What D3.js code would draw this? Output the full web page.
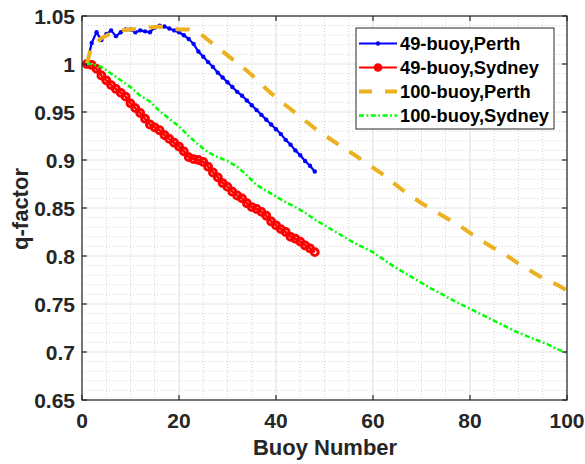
<!DOCTYPE html>
<html>
<head>
<meta charset="utf-8">
<script src="https://cdn.jsdelivr.net/npm/d3@7"></script>
<style>
  html, body { margin: 0; padding: 0; background: #fff; }
  svg { display: block; font-family: "Liberation Sans", Arial, Helvetica, sans-serif; }
</style>
</head>
<body>
<svg id="chart" width="585" height="464"></svg>
<script>
// ---------- DATA ----------
const xTicks = [0, 20, 40, 60, 80, 100];
const yTicks = [0.65, 0.7, 0.75, 0.8, 0.85, 0.9, 0.95, 1, 1.05];
const yTickLabels = ["0.65", "0.7", "0.75", "0.8", "0.85", "0.9", "0.95", "1", "1.05"];
const seriesNames = ["49-buoy,Perth", "49-buoy,Sydney", "100-buoy,Perth", "100-buoy,Sydney"];

const perth49X = d3.range(1, 49);
const perth49Y = [1.000, 1.022, 1.033, 1.025, 1.031, 1.035, 1.029, 1.033, 1.036, 1.036,
                  1.033, 1.035, 1.034, 1.033, 1.038, 1.040, 1.039, 1.037, 1.035, 1.033,
                  1.030, 1.026, 1.021, 1.013, 1.0075, 1.002, 0.997, 0.991, 0.986, 0.981,
                  0.976, 0.971, 0.967, 0.962, 0.957, 0.952, 0.947, 0.942, 0.937, 0.932,
                  0.927, 0.921, 0.916, 0.910, 0.905, 0.899, 0.894, 0.888];

const sydney49X = d3.range(1, 49);
const sydney49Y = [1.000, 0.999, 0.995, 0.988, 0.983, 0.978, 0.974, 0.970, 0.966, 0.959,
                   0.954, 0.949, 0.943, 0.937, 0.934, 0.931, 0.926, 0.922, 0.918, 0.914,
                   0.909, 0.903, 0.901, 0.900, 0.898, 0.893, 0.887, 0.882, 0.876, 0.872,
                   0.867, 0.863, 0.860, 0.855, 0.851, 0.849, 0.846, 0.842, 0.836, 0.832,
                   0.828, 0.825, 0.820, 0.818, 0.815, 0.811, 0.808, 0.804];

const perth100X = [1, 2, 3, 4, 6, 8, 10, 12, 14, 16, 18, 20, 22, 24, 26, 28, 30, 32, 34, 36,
                   38, 40, 42, 44, 46, 48, 50, 52, 54, 56, 58, 60, 62, 64, 66, 68, 70, 72,
                   74, 76, 78, 80, 82, 84, 86, 88, 90, 92, 94, 96, 98, 100];
const perth100Y = [1.000, 1.020, 1.022, 1.027, 1.032, 1.035, 1.036, 1.037, 1.038, 1.039,
                   1.037, 1.036, 1.036, 1.033, 1.025, 1.017, 1.009, 1.001, 0.993, 0.984,
                   0.974, 0.965, 0.957, 0.949, 0.941, 0.933, 0.926, 0.919, 0.912, 0.906,
                   0.899, 0.892, 0.885, 0.877, 0.869, 0.862, 0.855, 0.849, 0.843, 0.837,
                   0.831, 0.824, 0.817, 0.811, 0.805, 0.799, 0.792, 0.786, 0.780, 0.774,
                   0.770, 0.764];

const sydney100X = [1, 2, 4, 6, 8, 10, 12, 14, 16, 18, 20, 22, 24, 26, 28, 30, 32, 34, 36, 38,
                    40, 42, 44, 46, 48, 50, 52, 54, 56, 58, 60, 62, 64, 66, 68, 70, 72, 74,
                    76, 78, 80, 82, 84, 86, 88, 90, 92, 94, 96, 98, 100];
const sydney100Y = [1.000, 1.000, 0.997, 0.990, 0.983, 0.976, 0.967, 0.961, 0.951, 0.943,
                    0.935, 0.925, 0.916, 0.908, 0.903, 0.899, 0.893, 0.884, 0.874, 0.868,
                    0.862, 0.856, 0.851, 0.845, 0.838, 0.832, 0.826, 0.820, 0.814, 0.809,
                    0.804, 0.797, 0.790, 0.784, 0.778, 0.772, 0.766, 0.761, 0.755, 0.750,
                    0.745, 0.740, 0.735, 0.730, 0.725, 0.720, 0.716, 0.712, 0.708, 0.703,
                    0.699];

// ---------- LAYOUT ----------
const svg = d3.select("#chart");
const L = 82, R = 567, T = 16, B = 400;
const x = d3.scaleLinear().domain([0, 100]).range([L, R]);
const y = d3.scaleLinear().domain([0.65, 1.05]).range([B, T]);
const axisColor = "#262626";

// minor grid
const xMinor = d3.range(0, 100.001, 5).filter(v => v % 20 !== 0);
const yMinor = d3.range(0, 41).map(i => +(0.65 + i * 0.01).toFixed(2))
  .filter(v => Math.abs(v / 0.05 - Math.round(v / 0.05)) > 1e-6);
const grid = svg.append("g");
grid.selectAll(".xm").data(xMinor).join("line")
  .attr("x1", d => x(d)).attr("x2", d => x(d)).attr("y1", T).attr("y2", B)
  .attr("stroke", "#c8c8c8").attr("stroke-width", 0.8).attr("stroke-dasharray", "1,2");
grid.selectAll(".ym").data(yMinor).join("line")
  .attr("y1", d => y(d)).attr("y2", d => y(d)).attr("x1", L).attr("x2", R)
  .attr("stroke", "#c8c8c8").attr("stroke-width", 0.8).attr("stroke-dasharray", "1,2");
// major grid
grid.selectAll(".xM").data(xTicks).join("line")
  .attr("x1", d => x(d)).attr("x2", d => x(d)).attr("y1", T).attr("y2", B)
  .attr("stroke", "#e3e3e3").attr("stroke-width", 1.2);
grid.selectAll(".yM").data(yTicks).join("line")
  .attr("y1", d => y(d)).attr("y2", d => y(d)).attr("x1", L).attr("x2", R)
  .attr("stroke", "#e3e3e3").attr("stroke-width", 1.2);

// ---------- SERIES ----------
const line = d3.line().x(d => x(d[0])).y(d => y(d[1]));
const zip = (xs, ys) => xs.map((v, i) => [v, ys[i]]);

const sd100 = zip(sydney100X, sydney100Y);
const pe100 = zip(perth100X, perth100Y);
const sy49 = zip(sydney49X, sydney49Y);
const pe49 = zip(perth49X, perth49Y);

const plot = svg.append("g");
plot.append("path").datum(pe49).attr("d", line)
  .attr("fill", "none").attr("stroke", "#0000ff").attr("stroke-width", 2.2);
plot.selectAll(".pm").data(pe49).join("circle")
  .attr("cx", d => x(d[0])).attr("cy", d => y(d[1])).attr("r", 2.2).attr("fill", "#0000ff");

plot.append("path").datum(sy49).attr("d", line)
  .attr("fill", "none").attr("stroke", "#ff0000").attr("stroke-width", 2.5);
plot.selectAll(".sm").data(sy49).join("circle")
  .attr("cx", d => x(d[0])).attr("cy", d => y(d[1])).attr("r", 3.4)
  .attr("fill", "none").attr("stroke", "#ff0000").attr("stroke-width", 3);

plot.append("path").datum(pe100).attr("d", line)
  .attr("fill", "none").attr("stroke", "#edb120").attr("stroke-width", 4)
  .attr("stroke-dasharray", "14,13");

plot.append("path").datum(sd100).attr("d", line)
  .attr("fill", "none").attr("stroke", "#00ff00").attr("stroke-width", 2.5)
  .attr("stroke-dasharray", "5,2.5,1.8,2.5");

// ---------- AXES BOX & TICKS ----------
const ax = svg.append("g");
ax.append("rect").attr("x", L).attr("y", T).attr("width", R - L).attr("height", B - T)
  .attr("fill", "none").attr("stroke", axisColor).attr("stroke-width", 1.2);
const tl = 5;
xTicks.forEach(v => {
  ax.append("line").attr("x1", x(v)).attr("x2", x(v)).attr("y1", B).attr("y2", B - tl)
    .attr("stroke", axisColor).attr("stroke-width", 1.2);
  ax.append("line").attr("x1", x(v)).attr("x2", x(v)).attr("y1", T).attr("y2", T + tl)
    .attr("stroke", axisColor).attr("stroke-width", 1.2);
});
yTicks.forEach(v => {
  ax.append("line").attr("y1", y(v)).attr("y2", y(v)).attr("x1", L).attr("x2", L + tl)
    .attr("stroke", axisColor).attr("stroke-width", 1.2);
  ax.append("line").attr("y1", y(v)).attr("y2", y(v)).attr("x1", R).attr("x2", R - tl)
    .attr("stroke", axisColor).attr("stroke-width", 1.2);
});

// tick labels
ax.selectAll(".xl").data(xTicks).join("text")
  .attr("x", d => x(d)).attr("y", 428)
  .attr("text-anchor", "middle").attr("font-size", 21).attr("font-weight", "bold")
  .attr("fill", axisColor).text(d => d);
ax.selectAll(".yl").data(yTicks).join("text")
  .attr("x", 75).attr("y", d => y(d) + 7.5)
  .attr("text-anchor", "end").attr("font-size", 21).attr("font-weight", "bold")
  .attr("fill", axisColor).text((d, i) => yTickLabels[i]);

// axis titles
svg.append("text").attr("x", 325).attr("y", 455).attr("text-anchor", "middle")
  .attr("font-size", 22).attr("font-weight", "bold").attr("fill", axisColor)
  .text("Buoy Number");
svg.append("text").attr("transform", "translate(28,209) rotate(-90)")
  .attr("text-anchor", "middle").attr("font-size", 22).attr("font-weight", "bold")
  .attr("fill", axisColor).text("q-factor");

// ---------- LEGEND ----------
const lg = svg.append("g");
lg.append("rect").attr("x", 356).attr("y", 28).attr("width", 198).attr("height", 101)
  .attr("fill", "#fff").attr("stroke", axisColor).attr("stroke-width", 1);
const rowY = [43.5, 67.5, 91.5, 115.5];
const styles = [
  { c: "#0000ff", w: 2.2, dash: null, mk: "dot" },
  { c: "#ff0000", w: 2.2, dash: null, mk: "circle" },
  { c: "#edb120", w: 4, dash: "13,13", mk: null },
  { c: "#00ff00", w: 2.5, dash: "5,2.5,1.8,2.5", mk: null }
];
seriesNames.forEach((name, i) => {
  const s = styles[i];
  const l = lg.append("line").attr("x1", 359).attr("x2", 397)
    .attr("y1", rowY[i]).attr("y2", rowY[i])
    .attr("stroke", s.c).attr("stroke-width", s.w);
  if (s.dash) l.attr("stroke-dasharray", s.dash);
  if (s.mk === "dot") lg.append("circle").attr("cx", 378).attr("cy", rowY[i]).attr("r", 2.2).attr("fill", s.c);
  if (s.mk === "circle") lg.append("circle").attr("cx", 378).attr("cy", rowY[i]).attr("r", 3.6)
    .attr("fill", s.c).attr("stroke", s.c).attr("stroke-width", 1.5);
  lg.append("text").attr("x", 400).attr("y", rowY[i] + 6.5)
    .attr("font-size", 18.3).attr("font-weight", "bold").attr("fill", "#000").text(name);
});
</script>
</body>
</html>
